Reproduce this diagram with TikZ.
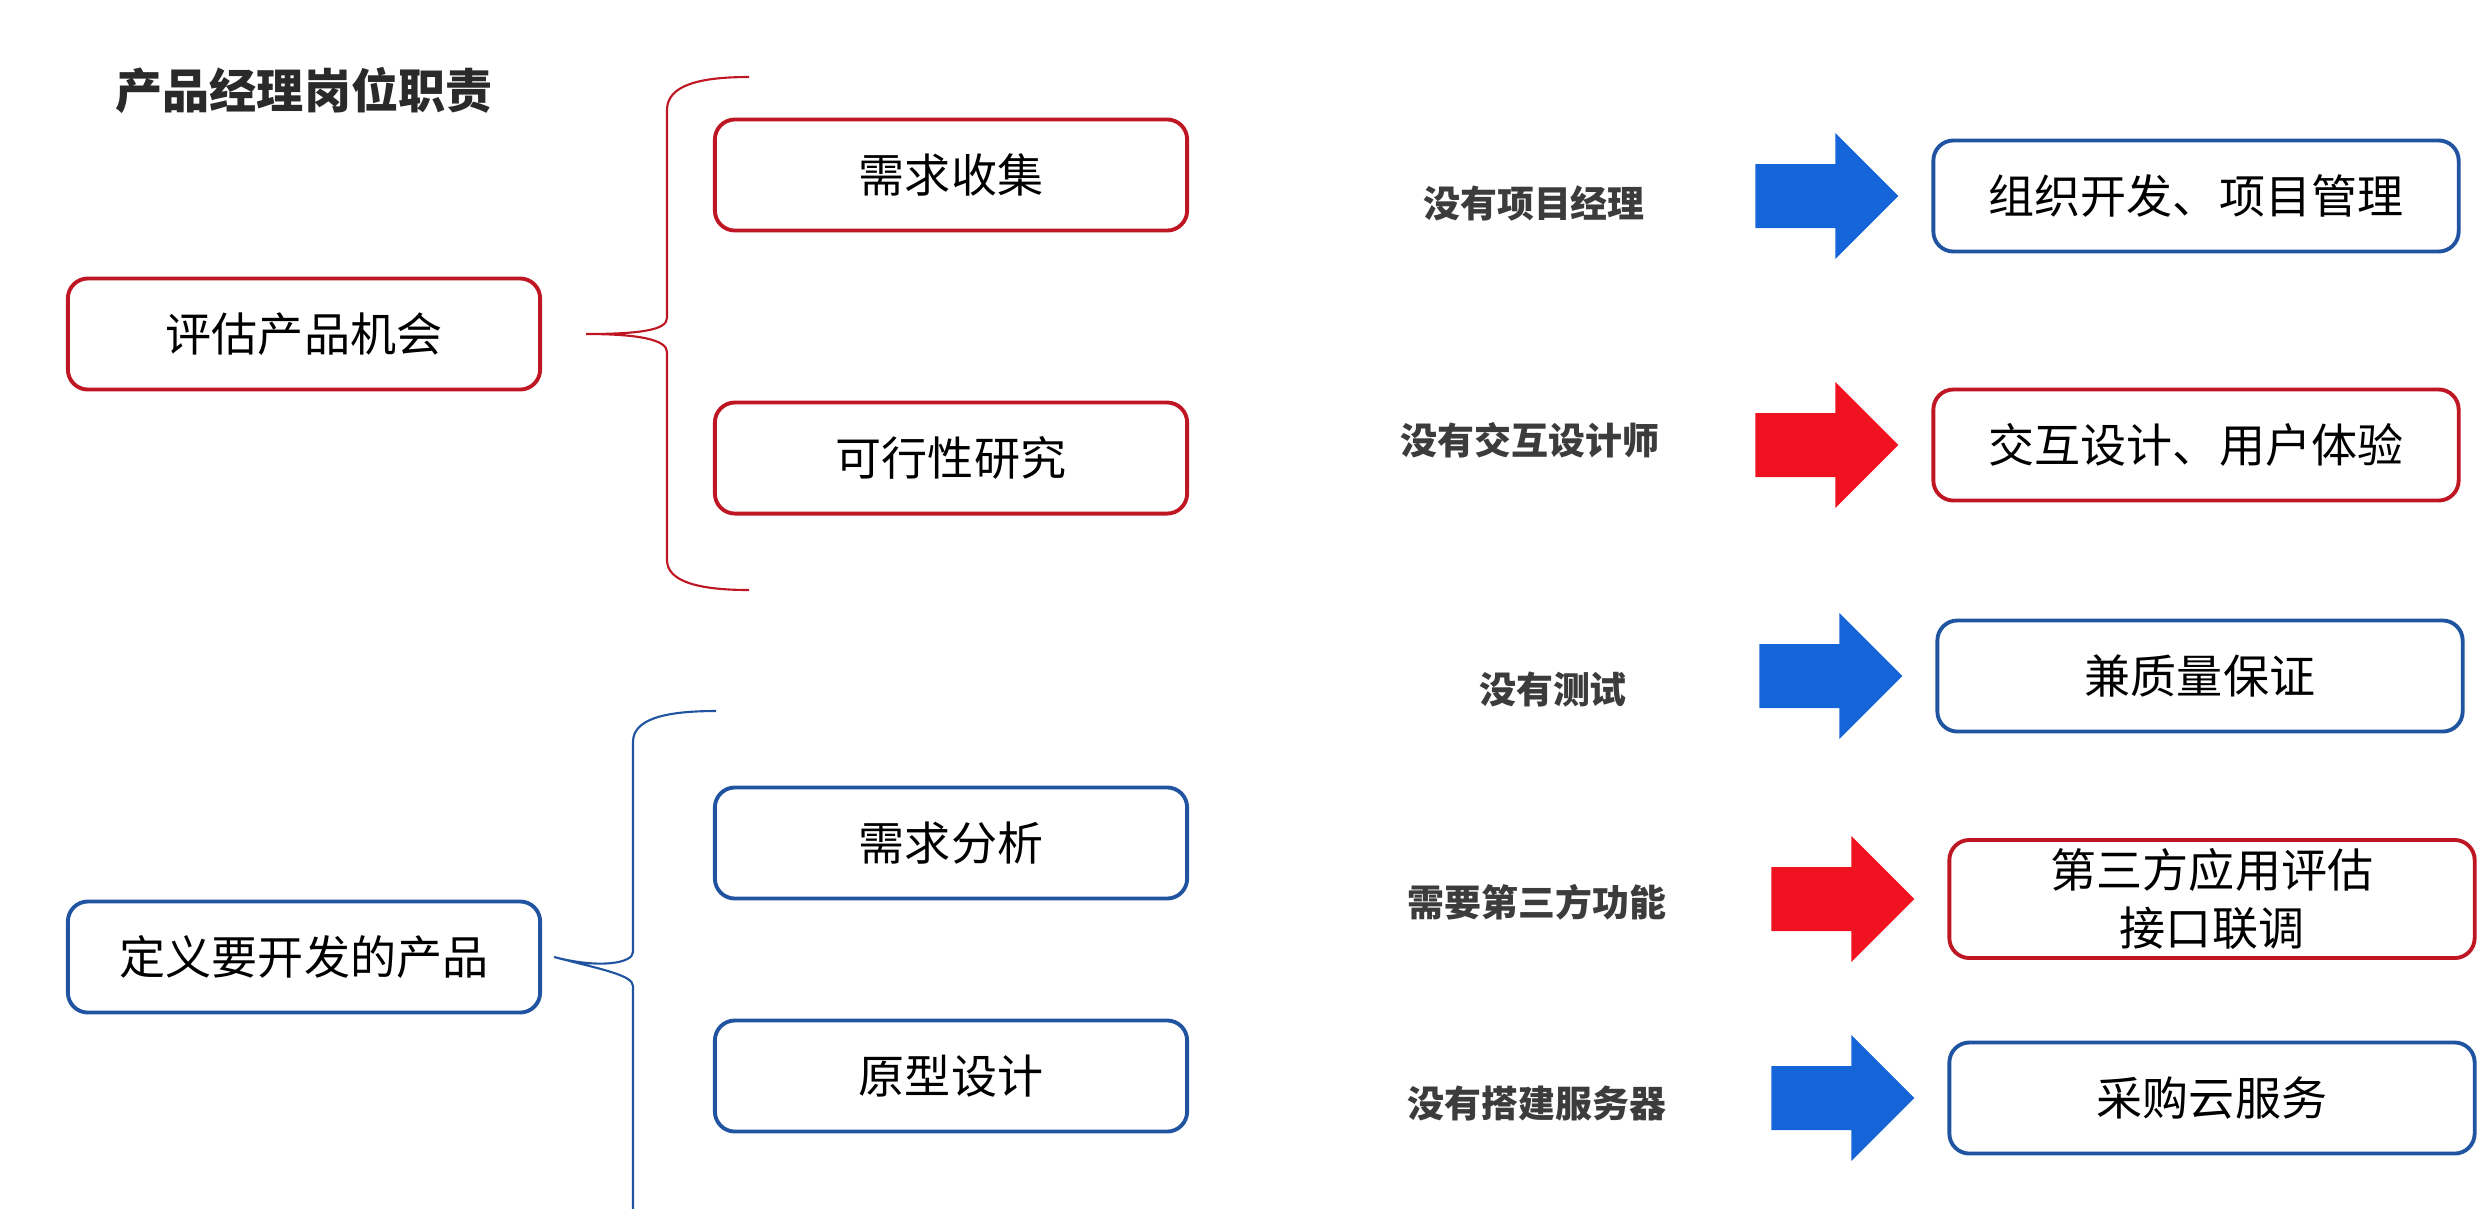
\documentclass[tikz,border=0pt]{standalone}
\usepackage{fontspec}
\setmainfont{Noto Sans CJK SC}
\usetikzlibrary{arrows.meta, positioning, calc}
\definecolor{pmRed}{RGB}{190,22,34}
\definecolor{pmBlue}{RGB}{32,84,160}
\definecolor{pmArrowBlue}{RGB}{22,101,216}
\definecolor{pmArrowRed}{RGB}{240,18,32}
\definecolor{pmText}{RGB}{60,60,60}
\tikzset{
    pm_box/.style={
        rectangle,
        rounded corners=0.2cm,
        fill=white,
        line width=1.1pt,
        minimum width=4.72cm,
        minimum height=1.11cm,
        inner sep=0pt,
        align=center,
        font=\fontsize{13.1}{16.5}\selectfont
    },
    pm_red_box/.style={
        pm_box,
        draw=pmRed
    },
    pm_blue_box/.style={
        pm_box,
        draw=pmBlue
    },
    pm_wide/.style={
        minimum width=5.25cm
    },
    pm_title/.style={
        text=pmText!70!black,
        font=\fontsize{13.4}{16}\selectfont\bfseries,
        inner sep=0pt
    },
    pm_label/.style={
        text=pmText,
        font=\fontsize{10.5}{12}\selectfont\bfseries,
        inner sep=0pt
    },
    pm_blue_arrow/.style={
        fill=pmArrowBlue
    },
    pm_red_arrow/.style={
        fill=pmArrowRed
    },
    pm_red_brace/.style={
        draw=pmRed,
        line width=0.6pt
    },
    pm_blue_brace/.style={
        draw=pmBlue,
        line width=0.6pt
    }
}
% block arrow pointing at the west side of a box
\newcommand{\pmblock}[2]{
    \fill[#1] ($(#2.west)+(-176,-32)$) -- ($(#2.west)+(-96,-32)$)
      -- ($(#2.west)+(-96,-63)$) -- ($(#2.west)+(-33,0)$)
      -- ($(#2.west)+(-96,63)$) -- ($(#2.west)+(-96,32)$)
      -- ($(#2.west)+(-176,32)$) -- cycle;
}

\begin{document}
\begin{tikzpicture}[x=0.01cm, y=-0.01cm]
\useasboundingbox (0,0) rectangle (2485,1208);

% Title
\node[pm_title] (title) at (304,90) {产品经理岗位职责};

% Evaluate the product opportunity
\node[pm_red_box] (evalOpp) at (304,334) {评估产品机会};
\node[pm_red_box] (collect) at (951,175) {需求收集};
\node[pm_red_box, below=1.68cm of collect] (feasible) {可行性研究};

% Define the product to build
\node[pm_blue_box] (defProd) at (304,957) {定义要开发的产品};
\node[pm_blue_box] (analyse) at (951,843) {需求分析};
\node[pm_blue_box, below=1.18cm of analyse] (prototype) {原型设计};

% Braces
\coordinate (evalTip) at ($(evalOpp.east)+(44,0)$);
\coordinate (evalTop) at (749,77);
\coordinate (evalBot) at (749,590);
\draw[pm_red_brace] (evalTop) .. controls (700,77) and (667,85) .. (667,110)
  -- (667,318) .. controls (667,330) and (640,334) .. (evalTip)
  .. controls (640,334) and (667,340) .. (667,352)
  -- (667,560) .. controls (667,582) and (700,590) .. (evalBot);

\coordinate (defTip) at ($(defProd.east)+(12,0)$);
\coordinate (defTop) at (716,711);
\coordinate (defBot) at (633,1220);
\draw[pm_blue_brace] (defTop) .. controls (662,711) and (633,720) .. (633,742)
  -- (633,952) .. controls (633,963) and (600,969) .. (defTip)
  .. controls (600,969) and (633,975) .. (633,986)
  -- (defBot);

% Missing roles
\node[pm_label] (noPM) at (1534,203) {没有项目经理};
\node[pm_label] (noUX) at (1530,440) {没有交互设计师};
\node[pm_label] (noQA) at (1553,689) {没有测试};
\node[pm_label] (needAPI) at (1537,902) {需要第三方功能};
\node[pm_label] (noServer) at (1537,1103) {没有搭建服务器};

% Extra duties
\node[pm_blue_box, pm_wide] (pmWork) at (2196,196) {组织开发、项目管理};
\node[pm_red_box, pm_wide] (uxWork) at (2196,445) {交互设计、用户体验};
\node[pm_blue_box, pm_wide] (qaWork) at (2200,676) {兼质量保证};
\node[pm_red_box, pm_wide, minimum height=1.18cm] (apiWork) at (2212,899) {第三方应用评估\\接口联调};
\node[pm_blue_box, pm_wide] (cloudWork) at (2212,1098) {采购云服务};

% Block arrows
\pmblock{pm_blue_arrow}{pmWork}
\pmblock{pm_red_arrow}{uxWork}
\pmblock{pm_blue_arrow}{qaWork}
\pmblock{pm_red_arrow}{apiWork}
\pmblock{pm_blue_arrow}{cloudWork}

\end{tikzpicture}
\end{document}
